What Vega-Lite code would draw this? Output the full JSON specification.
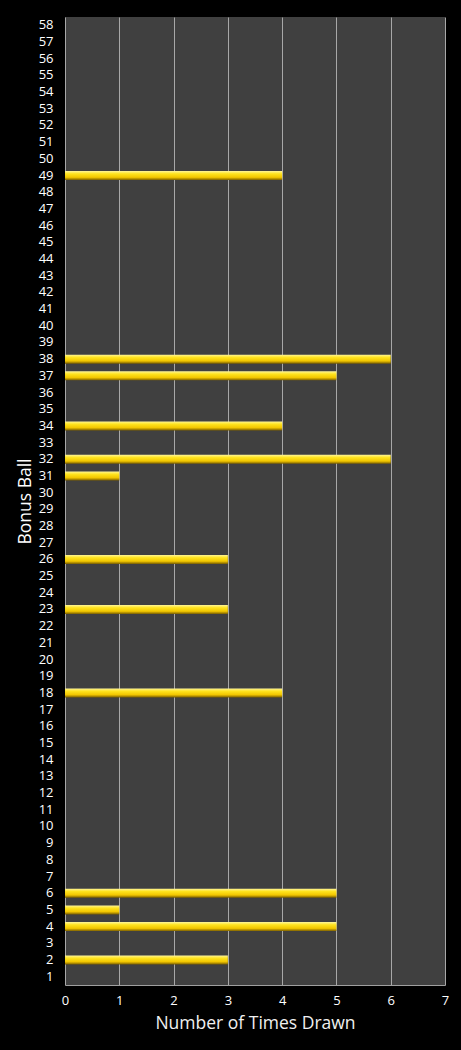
{
  "$schema": "https://vega.github.io/schema/vega-lite/v6.json",
  "width": 380,
  "height": 968,
  "autosize": {"type": "none"},
  "padding": {"left": 65, "top": 17, "right": 16, "bottom": 65},
  "background": "#000000",
  "config": {
    "view": {"fill": "#404040", "stroke": null},
    "font": "Open Sans"
  },
  "data": {
    "values": [
      {"ball": 1, "count": 0}, {"ball": 2, "count": 3}, {"ball": 3, "count": 0},
      {"ball": 4, "count": 5}, {"ball": 5, "count": 1}, {"ball": 6, "count": 5},
      {"ball": 7, "count": 0}, {"ball": 8, "count": 0}, {"ball": 9, "count": 0},
      {"ball": 10, "count": 0}, {"ball": 11, "count": 0}, {"ball": 12, "count": 0},
      {"ball": 13, "count": 0}, {"ball": 14, "count": 0}, {"ball": 15, "count": 0},
      {"ball": 16, "count": 0}, {"ball": 17, "count": 0}, {"ball": 18, "count": 4},
      {"ball": 19, "count": 0}, {"ball": 20, "count": 0}, {"ball": 21, "count": 0},
      {"ball": 22, "count": 0}, {"ball": 23, "count": 3}, {"ball": 24, "count": 0},
      {"ball": 25, "count": 0}, {"ball": 26, "count": 3}, {"ball": 27, "count": 0},
      {"ball": 28, "count": 0}, {"ball": 29, "count": 0}, {"ball": 30, "count": 0},
      {"ball": 31, "count": 1}, {"ball": 32, "count": 6}, {"ball": 33, "count": 0},
      {"ball": 34, "count": 4}, {"ball": 35, "count": 0}, {"ball": 36, "count": 0},
      {"ball": 37, "count": 5}, {"ball": 38, "count": 6}, {"ball": 39, "count": 0},
      {"ball": 40, "count": 0}, {"ball": 41, "count": 0}, {"ball": 42, "count": 0},
      {"ball": 43, "count": 0}, {"ball": 44, "count": 0}, {"ball": 45, "count": 0},
      {"ball": 46, "count": 0}, {"ball": 47, "count": 0}, {"ball": 48, "count": 0},
      {"ball": 49, "count": 4}, {"ball": 50, "count": 0}, {"ball": 51, "count": 0},
      {"ball": 52, "count": 0}, {"ball": 53, "count": 0}, {"ball": 54, "count": 0},
      {"ball": 55, "count": 0}, {"ball": 56, "count": 0}, {"ball": 57, "count": 0},
      {"ball": 58, "count": 0}
    ]
  },
  "mark": {
    "type": "bar",
    "size": 9,
    "color": {
      "gradient": "linear",
      "x1": 0, "y1": 0, "x2": 0, "y2": 1,
      "stops": [
        {"offset": 0, "color": "#fff59a"},
        {"offset": 0.3, "color": "#ffe41f"},
        {"offset": 0.7, "color": "#f2c600"},
        {"offset": 1, "color": "#7a5e00"}
      ]
    }
  },
  "encoding": {
    "y": {
      "field": "ball",
      "type": "ordinal",
      "sort": "descending",
      "title": "Bonus Ball",
      "axis": {
        "ticks": false,
        "domain": false,
        "grid": false,
        "labelColor": "#ffffff",
        "labelFontSize": 13,
        "labelPadding": 12,
        "titleColor": "#ffffff",
        "titleFontSize": 17.5,
        "titleFontWeight": "normal",
        "titlePadding": 4
      }
    },
    "x": {
      "field": "count",
      "type": "quantitative",
      "title": "Number of Times Drawn",
      "scale": {"domain": [0, 7], "nice": false},
      "axis": {
        "values": [0, 1, 2, 3, 4, 5, 6, 7],
        "format": "d",
        "ticks": false,
        "labelFlush": false,
        "domainColor": "#a0a0a0",
        "gridColor": "#a8a8a8",
        "gridWidth": 1,
        "labelColor": "#ffffff",
        "labelFontSize": 13,
        "labelPadding": 9,
        "titleColor": "#f0f0f0",
        "titleFontSize": 17.5,
        "titleFontWeight": "normal",
        "titlePadding": 7
      }
    }
  }
}
